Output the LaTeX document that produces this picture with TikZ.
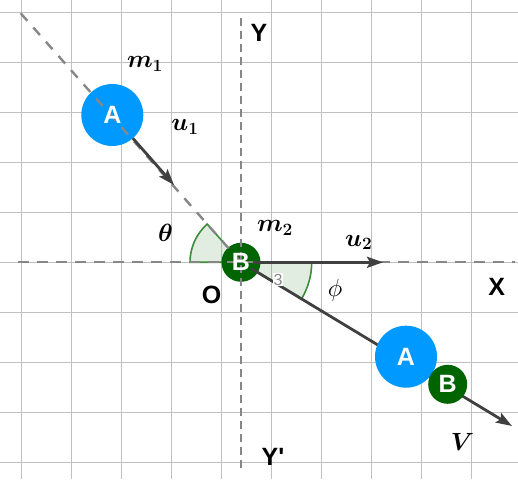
\documentclass[tikz,border=0pt]{standalone}
\usepackage{fontspec}
\setmainfont{Liberation Sans}
\usepackage{bm}
\usetikzlibrary{arrows.meta,calc}
\definecolor{ablue}{RGB}{0,153,255}
\definecolor{bgreen}{RGB}{0,100,0}
\definecolor{agreen}{RGB}{60,140,60}
\definecolor{gridc}{RGB}{192,192,192}
\definecolor{axisc}{RGB}{135,135,135}
\definecolor{vecc}{RGB}{64,64,64}
\begin{document}
\begin{tikzpicture}[x=1pt,y=1pt,
  gridline/.style={gridc, line width=1pt},
  axisline/.style={axisc, line width=2.4pt},
  vec/.style={vecc, line width=2.8pt, -{Stealth[length=16pt,width=11pt,inset=3pt]}},
  sector/.style={draw=agreen, line width=1.6pt, fill=agreen, fill opacity=0.15},
  ballA/.style={circle, fill=ablue, minimum size=62pt, inner sep=0pt},
  ballB/.style={circle, fill=bgreen, minimum size=39pt, inner sep=0pt},
  balltext/.style={text=white, inner sep=0pt, font=\bfseries\fontsize{25}{25}\selectfont},
  axislabel/.style={text=black, inner sep=0pt, font=\bfseries\fontsize{25}{25}\selectfont},
  mathlabel/.style={text=black, inner sep=0pt, font=\fontsize{27}{27}\selectfont},
  smalllabel/.style={text=axisc, fill=white, inner sep=0.5pt, font=\fontsize{16}{16}\selectfont}
]
\useasboundingbox (0,0) rectangle (518,479);
\fill[white] (0,0) rectangle (518,479);
% grid
\foreach \i in {0,...,9} {
  \draw[gridline] (21.7+50*\i,0) -- (21.7+50*\i,479);
  \draw[gridline] (0,466.7-50*\i) -- (518,466.7-50*\i);
}
% coordinates
\coordinate (O) at (241,216.7);
\coordinate (D0) at (20.7,465.7);
\coordinate (u1tip) at (174,294);
\coordinate (u2tip) at (383,216.7);
\coordinate (Vtip) at (512,53);
\coordinate (xl) at (18,216.7);
\coordinate (xr) at (515,216.7);
\coordinate (yt) at (241,461);
\coordinate (yb) at (241,11);
% angle sectors
\draw[sector] (O) -- ++(131.5:51) arc[start angle=131.5, end angle=180, radius=51] -- cycle;
\draw[sector] (O) -- ++(0:70.7) arc[start angle=0, end angle=-31.2, radius=70.7] -- cycle;
% balls before the lines
\node[ballA] (A1) at (112.3,364) {};
\node[ballB] (B0) at (O) {};
% axes and dashed path
\draw[axisline, dash pattern=on 11pt off 8pt] (xl) -- (xr);
\draw[axisline, dash pattern=on 8pt off 5pt] (yt) -- (yb);
\draw[axisline, dash pattern=on 10pt off 9pt] (D0) -- (B0.center);
% vectors
\draw[vec, shorten <=31pt] (A1.center) -- (u1tip);
\draw[vec, shorten <=12pt] (B0.center) -- (u2tip);
\draw[vec, shorten <=12pt] (B0.center) -- (Vtip);
% balls after collision
\node[ballA] (A2) at (406,122.3) {};
\node[ballB] (B2) at (447.7,94.7) {};
% ball letters
\node[balltext] (tA1) at (A1) {A};
\node[balltext] (tB0) at (B0) {B};
\node[balltext] (tA2) at (A2) {A};
\node[balltext] (tB2) at (B2) {B};
% labels
\node[mathlabel] (lm1) at (145,415) {$\bm{m_1}$};
\node[mathlabel] (lu1) at (185,352.3) {$\bm{u_1}$};
\node[mathlabel] (lth) at (165.5,245.7) {$\bm{\theta}$};
\node[mathlabel] (lm2) at (275,251) {$\bm{m_2}$};
\node[mathlabel] (lu2) at (358.8,236.5) {$\bm{u_2}$};
\node[mathlabel] (lph) at (335,189) {$\phi$};
\node[mathlabel] (lV) at (462.5,37.3) {$\bm{V}$};
\node[axislabel] (lO) at (211.7,184) {O};
\node[axislabel] (lX) at (496.7,192.3) {X};
\node[axislabel] (lY) at (259,446) {Y};
\node[axislabel] (lY2) at (273,22.3) {Y\textquotesingle};
\node[smalllabel] (l3) at (278,199.5) {3};
\end{tikzpicture}
\end{document}
